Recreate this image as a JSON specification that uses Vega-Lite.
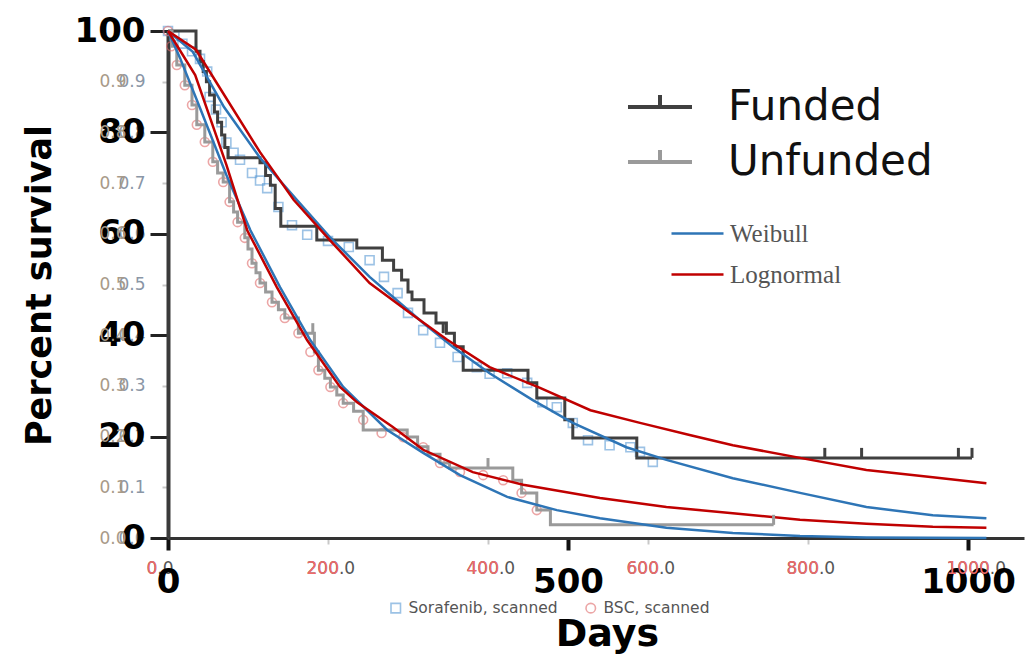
{
  "$schema": "https://vega.github.io/schema/vega-lite/v6.json",
  "width": 856,
  "height": 507,
  "autosize": {"type": "none"},
  "padding": {"left": 168, "top": 31, "right": 1, "bottom": 116},
  "background": "white",
  "config": {"view": {"stroke": null}, "font": "DejaVu Sans"},
  "datasets": {
    "km": [
      {"group": "Funded", "d": 0, "v": 100}, {"group": "Funded", "d": 35, "v": 96}, {"group": "Funded", "d": 40, "v": 94}, {"group": "Funded", "d": 44, "v": 92}, {"group": "Funded", "d": 48, "v": 90}, {"group": "Funded", "d": 52, "v": 87.4}, {"group": "Funded", "d": 58, "v": 84}, {"group": "Funded", "d": 62, "v": 82}, {"group": "Funded", "d": 67, "v": 79.5}, {"group": "Funded", "d": 71, "v": 77}, {"group": "Funded", "d": 75, "v": 75}, {"group": "Funded", "d": 115, "v": 74}, {"group": "Funded", "d": 122, "v": 71.5}, {"group": "Funded", "d": 128, "v": 69.6}, {"group": "Funded", "d": 134, "v": 65}, {"group": "Funded", "d": 141, "v": 61.5}, {"group": "Funded", "d": 186, "v": 58.8}, {"group": "Funded", "d": 236, "v": 57.2}, {"group": "Funded", "d": 268, "v": 54.8}, {"group": "Funded", "d": 282, "v": 52.8}, {"group": "Funded", "d": 292, "v": 50.9}, {"group": "Funded", "d": 300, "v": 48.5}, {"group": "Funded", "d": 305, "v": 47}, {"group": "Funded", "d": 320, "v": 44.4}, {"group": "Funded", "d": 335, "v": 42.4}, {"group": "Funded", "d": 348, "v": 40.4}, {"group": "Funded", "d": 358, "v": 37.7}, {"group": "Funded", "d": 369, "v": 33.1}, {"group": "Funded", "d": 450, "v": 30.6}, {"group": "Funded", "d": 461, "v": 27.6}, {"group": "Funded", "d": 496, "v": 23.3}, {"group": "Funded", "d": 506, "v": 19.7}, {"group": "Funded", "d": 586, "v": 15.8}, {"group": "Funded", "d": 1005, "v": 15.8},
      {"group": "Unfunded", "d": 0, "v": 100}, {"group": "Unfunded", "d": 5, "v": 97}, {"group": "Unfunded", "d": 11, "v": 93.3}, {"group": "Unfunded", "d": 21, "v": 89.3}, {"group": "Unfunded", "d": 30, "v": 85.4}, {"group": "Unfunded", "d": 36, "v": 81.5}, {"group": "Unfunded", "d": 46, "v": 78.1}, {"group": "Unfunded", "d": 56, "v": 74.2}, {"group": "Unfunded", "d": 62, "v": 72}, {"group": "Unfunded", "d": 69, "v": 70.2}, {"group": "Unfunded", "d": 77, "v": 66.3}, {"group": "Unfunded", "d": 82, "v": 64.3}, {"group": "Unfunded", "d": 87, "v": 62.3}, {"group": "Unfunded", "d": 96, "v": 59.2}, {"group": "Unfunded", "d": 100, "v": 57}, {"group": "Unfunded", "d": 105, "v": 54.2}, {"group": "Unfunded", "d": 110, "v": 52.3}, {"group": "Unfunded", "d": 115, "v": 50.3}, {"group": "Unfunded", "d": 122, "v": 48.5}, {"group": "Unfunded", "d": 130, "v": 46.5}, {"group": "Unfunded", "d": 138, "v": 45}, {"group": "Unfunded", "d": 146, "v": 43.4}, {"group": "Unfunded", "d": 163, "v": 40.4}, {"group": "Unfunded", "d": 183, "v": 36.7}, {"group": "Unfunded", "d": 188, "v": 33.1}, {"group": "Unfunded", "d": 196, "v": 31.5}, {"group": "Unfunded", "d": 203, "v": 29.8}, {"group": "Unfunded", "d": 211, "v": 28.2}, {"group": "Unfunded", "d": 219, "v": 26.6}, {"group": "Unfunded", "d": 232, "v": 25}, {"group": "Unfunded", "d": 244, "v": 21.3}, {"group": "Unfunded", "d": 299, "v": 19.9}, {"group": "Unfunded", "d": 312, "v": 18}, {"group": "Unfunded", "d": 325, "v": 16.5}, {"group": "Unfunded", "d": 340, "v": 14.8}, {"group": "Unfunded", "d": 352, "v": 13.8}, {"group": "Unfunded", "d": 431, "v": 11.4}, {"group": "Unfunded", "d": 442, "v": 8.9}, {"group": "Unfunded", "d": 461, "v": 5.5}, {"group": "Unfunded", "d": 478, "v": 2.6}, {"group": "Unfunded", "d": 757, "v": 2.6}
    ],
    "censor": [
      {"group": "Funded", "d": 344, "v": 40.4}, {"group": "Funded", "d": 821, "v": 15.8}, {"group": "Funded", "d": 867, "v": 15.8}, {"group": "Funded", "d": 988, "v": 15.8}, {"group": "Funded", "d": 1005, "v": 15.8},
      {"group": "Unfunded", "d": 181, "v": 40.4}, {"group": "Unfunded", "d": 400, "v": 13.8}, {"group": "Unfunded", "d": 757, "v": 2.6}
    ],
    "scanned": [
      {"arm": "Sorafenib, scanned", "d": 0, "v": 100}, {"arm": "Sorafenib, scanned", "d": 8, "v": 99}, {"arm": "Sorafenib, scanned", "d": 18, "v": 97.5}, {"arm": "Sorafenib, scanned", "d": 30, "v": 96}, {"arm": "Sorafenib, scanned", "d": 40, "v": 94.5}, {"arm": "Sorafenib, scanned", "d": 49, "v": 92}, {"arm": "Sorafenib, scanned", "d": 52, "v": 87}, {"arm": "Sorafenib, scanned", "d": 60, "v": 84.5}, {"arm": "Sorafenib, scanned", "d": 67, "v": 82}, {"arm": "Sorafenib, scanned", "d": 73, "v": 78}, {"arm": "Sorafenib, scanned", "d": 82, "v": 76}, {"arm": "Sorafenib, scanned", "d": 90, "v": 74.6}, {"arm": "Sorafenib, scanned", "d": 105, "v": 72}, {"arm": "Sorafenib, scanned", "d": 115, "v": 70.5}, {"arm": "Sorafenib, scanned", "d": 124, "v": 69}, {"arm": "Sorafenib, scanned", "d": 138, "v": 65.3}, {"arm": "Sorafenib, scanned", "d": 155, "v": 61.7}, {"arm": "Sorafenib, scanned", "d": 174, "v": 59.8}, {"arm": "Sorafenib, scanned", "d": 200, "v": 58.6}, {"arm": "Sorafenib, scanned", "d": 226, "v": 57.4}, {"arm": "Sorafenib, scanned", "d": 252, "v": 54.8}, {"arm": "Sorafenib, scanned", "d": 270, "v": 51.5}, {"arm": "Sorafenib, scanned", "d": 287, "v": 48.3}, {"arm": "Sorafenib, scanned", "d": 300, "v": 44.4}, {"arm": "Sorafenib, scanned", "d": 319, "v": 41}, {"arm": "Sorafenib, scanned", "d": 340, "v": 38.5}, {"arm": "Sorafenib, scanned", "d": 362, "v": 35.7}, {"arm": "Sorafenib, scanned", "d": 386, "v": 33.7}, {"arm": "Sorafenib, scanned", "d": 402, "v": 32.4}, {"arm": "Sorafenib, scanned", "d": 424, "v": 32.5}, {"arm": "Sorafenib, scanned", "d": 449, "v": 30.6}, {"arm": "Sorafenib, scanned", "d": 468, "v": 26.8}, {"arm": "Sorafenib, scanned", "d": 486, "v": 25.8}, {"arm": "Sorafenib, scanned", "d": 506, "v": 22.7}, {"arm": "Sorafenib, scanned", "d": 525, "v": 19.3}, {"arm": "Sorafenib, scanned", "d": 552, "v": 18.3}, {"arm": "Sorafenib, scanned", "d": 578, "v": 17.9}, {"arm": "Sorafenib, scanned", "d": 590, "v": 17}, {"arm": "Sorafenib, scanned", "d": 606, "v": 15},
      {"arm": "BSC, scanned", "d": 0, "v": 100}, {"arm": "BSC, scanned", "d": 4, "v": 97}, {"arm": "BSC, scanned", "d": 11, "v": 93.3}, {"arm": "BSC, scanned", "d": 21, "v": 89.3}, {"arm": "BSC, scanned", "d": 30, "v": 85.4}, {"arm": "BSC, scanned", "d": 36, "v": 81.5}, {"arm": "BSC, scanned", "d": 46, "v": 78.1}, {"arm": "BSC, scanned", "d": 56, "v": 74.2}, {"arm": "BSC, scanned", "d": 69, "v": 70.2}, {"arm": "BSC, scanned", "d": 77, "v": 66.3}, {"arm": "BSC, scanned", "d": 87, "v": 62.3}, {"arm": "BSC, scanned", "d": 96, "v": 59.2}, {"arm": "BSC, scanned", "d": 105, "v": 54.2}, {"arm": "BSC, scanned", "d": 115, "v": 50.3}, {"arm": "BSC, scanned", "d": 130, "v": 46.5}, {"arm": "BSC, scanned", "d": 146, "v": 43.4}, {"arm": "BSC, scanned", "d": 163, "v": 40.4}, {"arm": "BSC, scanned", "d": 178, "v": 36.7}, {"arm": "BSC, scanned", "d": 188, "v": 33.1}, {"arm": "BSC, scanned", "d": 203, "v": 29.8}, {"arm": "BSC, scanned", "d": 219, "v": 26.6}, {"arm": "BSC, scanned", "d": 244, "v": 23.3}, {"arm": "BSC, scanned", "d": 267, "v": 20.7}, {"arm": "BSC, scanned", "d": 294, "v": 19.9}, {"arm": "BSC, scanned", "d": 319, "v": 17.9}, {"arm": "BSC, scanned", "d": 340, "v": 14.8}, {"arm": "BSC, scanned", "d": 365, "v": 13}, {"arm": "BSC, scanned", "d": 394, "v": 12.4}, {"arm": "BSC, scanned", "d": 419, "v": 11.4}, {"arm": "BSC, scanned", "d": 442, "v": 8.9}, {"arm": "BSC, scanned", "d": 461, "v": 5.5}
    ],
    "fits": [
      {"model": "Weibull", "group": "Funded", "d": 0, "v": 100}, {"model": "Weibull", "group": "Funded", "d": 31, "v": 95.9}, {"model": "Weibull", "group": "Funded", "d": 70, "v": 85}, {"model": "Weibull", "group": "Funded", "d": 115, "v": 75}, {"model": "Weibull", "group": "Funded", "d": 161, "v": 66.7}, {"model": "Weibull", "group": "Funded", "d": 202, "v": 59.4}, {"model": "Weibull", "group": "Funded", "d": 252, "v": 51.5}, {"model": "Weibull", "group": "Funded", "d": 286, "v": 46.9}, {"model": "Weibull", "group": "Funded", "d": 319, "v": 42.4}, {"model": "Weibull", "group": "Funded", "d": 356, "v": 37.7}, {"model": "Weibull", "group": "Funded", "d": 402, "v": 32.5}, {"model": "Weibull", "group": "Funded", "d": 456, "v": 27.2}, {"model": "Weibull", "group": "Funded", "d": 506, "v": 22.7}, {"model": "Weibull", "group": "Funded", "d": 573, "v": 17.9}, {"model": "Weibull", "group": "Funded", "d": 623, "v": 15.4}, {"model": "Weibull", "group": "Funded", "d": 706, "v": 11.8}, {"model": "Weibull", "group": "Funded", "d": 790, "v": 8.9}, {"model": "Weibull", "group": "Funded", "d": 873, "v": 6.1}, {"model": "Weibull", "group": "Funded", "d": 956, "v": 4.5}, {"model": "Weibull", "group": "Funded", "d": 1023, "v": 3.9},
      {"model": "Lognormal", "group": "Funded", "d": 0, "v": 100}, {"model": "Lognormal", "group": "Funded", "d": 35, "v": 96.3}, {"model": "Lognormal", "group": "Funded", "d": 115, "v": 76.1}, {"model": "Lognormal", "group": "Funded", "d": 157, "v": 66.7}, {"model": "Lognormal", "group": "Funded", "d": 202, "v": 58.8}, {"model": "Lognormal", "group": "Funded", "d": 252, "v": 50.3}, {"model": "Lognormal", "group": "Funded", "d": 306, "v": 44}, {"model": "Lognormal", "group": "Funded", "d": 349, "v": 39.1}, {"model": "Lognormal", "group": "Funded", "d": 402, "v": 33.7}, {"model": "Lognormal", "group": "Funded", "d": 465, "v": 29.6}, {"model": "Lognormal", "group": "Funded", "d": 528, "v": 25.2}, {"model": "Lognormal", "group": "Funded", "d": 590, "v": 22.7}, {"model": "Lognormal", "group": "Funded", "d": 652, "v": 20.3}, {"model": "Lognormal", "group": "Funded", "d": 706, "v": 18.3}, {"model": "Lognormal", "group": "Funded", "d": 790, "v": 15.8}, {"model": "Lognormal", "group": "Funded", "d": 873, "v": 13.4}, {"model": "Lognormal", "group": "Funded", "d": 956, "v": 12}, {"model": "Lognormal", "group": "Funded", "d": 1023, "v": 10.8},
      {"model": "Weibull", "group": "Unfunded", "d": 0, "v": 100}, {"model": "Weibull", "group": "Unfunded", "d": 15, "v": 94.7}, {"model": "Weibull", "group": "Unfunded", "d": 40, "v": 84.8}, {"model": "Weibull", "group": "Unfunded", "d": 73, "v": 71.6}, {"model": "Weibull", "group": "Unfunded", "d": 103, "v": 60.7}, {"model": "Weibull", "group": "Unfunded", "d": 140, "v": 49.5}, {"model": "Weibull", "group": "Unfunded", "d": 178, "v": 39}, {"model": "Weibull", "group": "Unfunded", "d": 219, "v": 29.8}, {"model": "Weibull", "group": "Unfunded", "d": 274, "v": 21.3}, {"model": "Weibull", "group": "Unfunded", "d": 319, "v": 16.8}, {"model": "Weibull", "group": "Unfunded", "d": 365, "v": 12.4}, {"model": "Weibull", "group": "Unfunded", "d": 424, "v": 8.1}, {"model": "Weibull", "group": "Unfunded", "d": 486, "v": 5.5}, {"model": "Weibull", "group": "Unfunded", "d": 540, "v": 3.9}, {"model": "Weibull", "group": "Unfunded", "d": 623, "v": 2}, {"model": "Weibull", "group": "Unfunded", "d": 706, "v": 1}, {"model": "Weibull", "group": "Unfunded", "d": 790, "v": 0.4}, {"model": "Weibull", "group": "Unfunded", "d": 873, "v": 0.1}, {"model": "Weibull", "group": "Unfunded", "d": 1023, "v": 0},
      {"model": "Lognormal", "group": "Unfunded", "d": 0, "v": 100}, {"model": "Lognormal", "group": "Unfunded", "d": 34, "v": 91.3}, {"model": "Lognormal", "group": "Unfunded", "d": 73, "v": 73.6}, {"model": "Lognormal", "group": "Unfunded", "d": 99, "v": 60.7}, {"model": "Lognormal", "group": "Unfunded", "d": 136, "v": 49.5}, {"model": "Lognormal", "group": "Unfunded", "d": 174, "v": 39}, {"model": "Lognormal", "group": "Unfunded", "d": 215, "v": 29.8}, {"model": "Lognormal", "group": "Unfunded", "d": 236, "v": 26.8}, {"model": "Lognormal", "group": "Unfunded", "d": 281, "v": 21.9}, {"model": "Lognormal", "group": "Unfunded", "d": 319, "v": 17.4}, {"model": "Lognormal", "group": "Unfunded", "d": 381, "v": 13}, {"model": "Lognormal", "group": "Unfunded", "d": 444, "v": 10.5}, {"model": "Lognormal", "group": "Unfunded", "d": 540, "v": 7.9}, {"model": "Lognormal", "group": "Unfunded", "d": 623, "v": 6.1}, {"model": "Lognormal", "group": "Unfunded", "d": 706, "v": 4.9}, {"model": "Lognormal", "group": "Unfunded", "d": 790, "v": 3.6}, {"model": "Lognormal", "group": "Unfunded", "d": 873, "v": 2.8}, {"model": "Lognormal", "group": "Unfunded", "d": 956, "v": 2.2}, {"model": "Lognormal", "group": "Unfunded", "d": 1023, "v": 2}
    ]
  },
  "layer": [
    {
      "data": {"name": "scanned"},
      "mark": {"type": "point", "filled": false, "strokeWidth": 1.6, "opacity": 0.6, "size": 80},
      "encoding": {
        "x": {"field": "d", "type": "quantitative", "scale": {"domain": [0, 1070], "nice": false, "zero": false},
          "axis": {"orient": "bottom", "values": [0, 200, 400, 600, 800, 1000], "format": ".1f", "title": null, "grid": false, "domain": false,
            "labelFont": "DejaVu Sans", "labelFontSize": 17, "labelColor": "#555555", "labelAlign": "left", "labelOffset": -22, "labelPadding": 16, "tickSize": 6, "tickWidth": 2, "tickColor": "#c8c8c8", "labelFlush": false, "labelOverlap": false}},
        "y": {"field": "v", "type": "quantitative", "scale": {"domain": [0, 100], "nice": false},
          "axis": {"orient": "left", "values": [0, 10, 20, 30, 40, 50, 60, 70, 80, 90], "labelExpr": "format(datum.value/100, '.1f')", "title": null, "grid": false, "domain": false,
            "labelFont": "DejaVu Sans", "labelFontSize": 17, "labelColor": "#8a96a6", "labelPadding": 17, "tickSize": 6, "tickWidth": 2, "tickColor": "#c8c8c8", "labelFlush": false, "labelOverlap": false}},
        "color": {"field": "arm", "type": "nominal", "scale": {"domain": ["Sorafenib, scanned", "BSC, scanned"], "range": ["#5b9bd5", "#e06c6c"]},
          "legend": {"orient": "none", "legendX": 220, "legendY": 569, "direction": "horizontal", "title": null, "padding": 0, "symbolSize": 90, "symbolStrokeWidth": 1.6, "labelFont": "DejaVu Sans", "labelFontSize": 15.5, "labelColor": "#555555", "labelOffset": 5, "labelLimit": 0, "columnPadding": 24}},
        "shape": {"field": "arm", "type": "nominal", "scale": {"domain": ["Sorafenib, scanned", "BSC, scanned"], "range": ["square", "circle"]}}
      }
    },
    {
      "data": {"name": "km"},
      "mark": {"type": "line", "interpolate": "step-after", "strokeWidth": 3},
      "encoding": {
        "x": {"field": "d", "type": "quantitative", "scale": {"domain": [0, 1070], "nice": false, "zero": false},
          "axis": {"orient": "bottom", "values": [0, 500, 1000], "format": "d", "title": "Days", "grid": false,
            "titleFont": "DejaVu Sans", "titleFontSize": 38, "titleFontWeight": "bold", "titleColor": "#000000", "titleX": 439, "titleY": 107, "titleBaseline": "alphabetic", "titleAlign": "center",
            "labelFont": "DejaVu Sans", "labelFontSize": 34, "labelFontWeight": "bold", "labelColor": "#000000", "labelPadding": 15, "tickSize": 12, "tickWidth": 4, "tickColor": "#111111", "domainColor": "#333333", "domainWidth": 3, "labelFlush": false, "labelOverlap": false}},
        "y": {"field": "v", "type": "quantitative", "scale": {"domain": [0, 100], "nice": false},
          "axis": {"orient": "left", "values": [0, 20, 40, 60, 80, 100], "title": "Percent survival", "grid": false,
            "titleFont": "DejaVu Sans", "titleFontSize": 35, "titleFontWeight": "bold", "titleColor": "#000000", "titleX": -111, "titleY": 254, "titleAngle": -90, "titleBaseline": "bottom", "titleAlign": "center",
            "labelFont": "DejaVu Sans", "labelFontSize": 34, "labelFontWeight": "bold", "labelColor": "#000000", "labelPadding": 5, "tickSize": 18, "tickWidth": 3, "tickColor": "#222222", "domainColor": "#3a3a3a", "domainWidth": 4, "labelFlush": false, "labelOverlap": false}},
        "color": {"field": "group", "type": "nominal", "scale": {"domain": ["Funded", "Unfunded"], "range": ["#404040", "#9a9a9a"]},
          "legend": {"orient": "none", "legendX": 458, "legendY": 42, "title": null, "padding": 0, "symbolType": "M-1,0L1,0M0,0L0,-0.375", "symbolSize": 4096, "symbolStrokeWidth": 4, "labelFont": "DejaVu Sans", "labelFontSize": 42, "labelColor": "#111111", "labelOffset": 34, "labelLimit": 0, "rowPadding": -6}}
      }
    },
    {
      "data": {"name": "fits"},
      "mark": {"type": "line", "strokeWidth": 2.5},
      "encoding": {
        "x": {"field": "d", "type": "quantitative", "scale": {"domain": [0, 1070], "nice": false, "zero": false},
          "axis": {"orient": "bottom", "values": [0, 200, 400, 600, 800, 1000], "format": "d", "title": null, "grid": false, "domain": false,
            "labelFont": "DejaVu Sans", "labelFontSize": 17, "labelColor": "#f06a6a", "labelAlign": "left", "labelOffset": -22, "labelPadding": 16, "tickSize": 6, "tickOpacity": 0, "labelFlush": false, "labelOverlap": false}},
        "y": {"field": "v", "type": "quantitative", "scale": {"domain": [0, 100], "nice": false},
          "axis": {"orient": "left", "values": [0, 10, 20, 30, 40, 50, 60, 70, 80, 90], "labelExpr": "format(datum.value/100, '.1f')", "title": null, "grid": false, "domain": false,
            "labelFont": "DejaVu Sans", "labelFontSize": 17, "labelColor": "#a89a88", "labelPadding": 36, "tickSize": 6, "tickOpacity": 0, "labelFlush": false, "labelOverlap": false}},
        "color": {"field": "model", "type": "nominal", "scale": {"domain": ["Weibull", "Lognormal"], "range": ["#2e75b6", "#c00000"]},
          "legend": {"orient": "none", "legendX": 502, "legendY": 175, "title": null, "padding": 0, "symbolType": "stroke", "symbolSize": 2704, "symbolStrokeWidth": 2.5, "labelFont": "Liberation Serif", "labelFontSize": 25, "labelColor": "#555555", "labelOffset": 5, "labelLimit": 0, "rowPadding": -16}},
        "detail": {"field": "group", "type": "nominal"}
      }
    },
    {
      "data": {"name": "censor"},
      "mark": {"type": "point", "shape": "M0,0L0,-1", "size": 400, "filled": false, "strokeWidth": 3, "opacity": 1},
      "encoding": {
        "x": {"field": "d", "type": "quantitative", "scale": {"domain": [0, 1070], "nice": false, "zero": false}, "axis": null},
        "y": {"field": "v", "type": "quantitative", "scale": {"domain": [0, 100], "nice": false}, "axis": null},
        "color": {"field": "group", "type": "nominal", "scale": {"domain": ["Funded", "Unfunded"], "range": ["#404040", "#9a9a9a"]}, "legend": null}
      }
    }
  ],
  "resolve": {"scale": {"color": "independent", "shape": "independent"}, "axis": {"x": "independent", "y": "independent"}}
}
